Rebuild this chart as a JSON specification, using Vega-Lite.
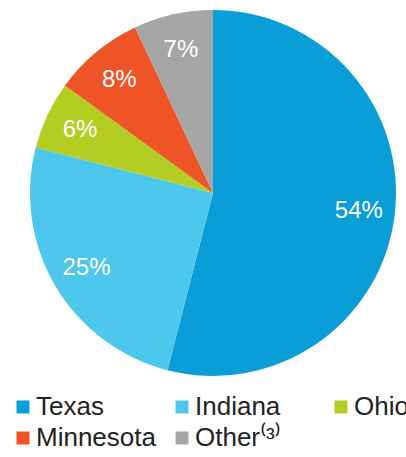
{
  "$schema": "https://vega.github.io/schema/vega-lite/v6.json",
  "width": 386,
  "height": 386,
  "autosize": {"type": "none"},
  "padding": {"left": 20, "top": 0, "right": 0, "bottom": 71},
  "background": "white",
  "data": {
    "values": [
      {"state": "Texas", "pct": 54, "label": "54%", "ord": 1},
      {"state": "Indiana", "pct": 25, "label": "25%", "ord": 2},
      {"state": "Ohio", "pct": 6, "label": "6%", "ord": 3},
      {"state": "Minnesota", "pct": 8, "label": "8%", "ord": 4},
      {"state": "Other⁽³⁾", "pct": 7, "label": "7%", "ord": 5}
    ]
  },
  "encoding": {
    "theta": {"field": "pct", "type": "quantitative", "stack": true},
    "order": {"field": "ord", "type": "quantitative"}
  },
  "layer": [
    {
      "mark": {"type": "arc", "outerRadius": 183},
      "encoding": {
        "color": {
          "field": "state",
          "type": "nominal",
          "scale": {
            "domain": ["Texas", "Indiana", "Ohio", "Minnesota", "Other⁽³⁾"],
            "range": ["#0a9ed9", "#4ec7ec", "#b3cd22", "#ee5425", "#a6a6a6"]
          },
          "legend": {
            "title": null,
            "orient": "none",
            "legendX": -10,
            "legendY": 394,
            "columns": 3,
            "direction": "horizontal",
            "symbolType": "square",
            "symbolSize": 169,
            "symbolStrokeWidth": 0,
            "labelFontSize": 26,
            "labelFont": "Liberation Sans",
            "labelColor": "#222222",
            "labelOffset": 0,
            "labelLimit": 400,
            "columnPadding": 13,
            "rowPadding": 5,
            "gridAlign": "all"
          }
        }
      }
    },
    {
      "mark": {"type": "text", "radius": 147, "fontSize": 24, "font": "Liberation Sans", "fill": "#ffffff"},
      "encoding": {
        "text": {"field": "label", "type": "nominal"}
      }
    }
  ]
}
